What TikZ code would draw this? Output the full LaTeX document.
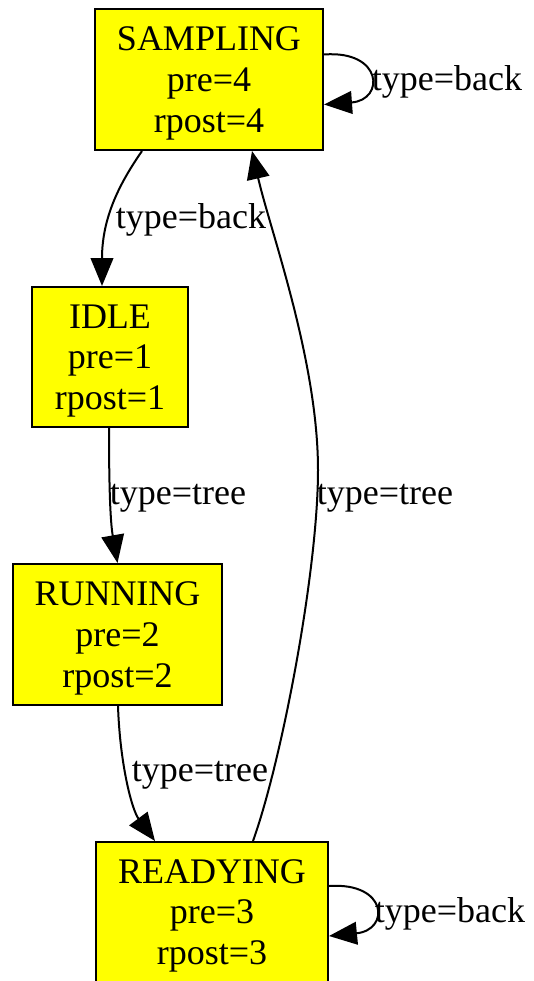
\documentclass[tikz,border=0pt]{standalone}
\usepackage{fontspec}
\setmainfont{Liberation Serif}
\usetikzlibrary{arrows.meta}
\definecolor{gvyellow}{RGB}{255,255,0}
\tikzset{
  state/.style={draw=black, line width=1.5pt, fill=gvyellow, rectangle, align=center, inner sep=0pt,
    text depth=0pt, font=\fontsize{27}{30.5}\selectfont},
  lbl/.style={font=\fontsize{27}{30}\selectfont, inner sep=0pt, text depth=0pt},
  edge/.style={draw=black, line width=1.5pt, -{Triangle[length=21pt,width=17pt]}},
}
\begin{document}
\begin{tikzpicture}[x=0.75pt,y=-0.75pt]
\useasboundingbox (0,0) rectangle (533,981);
\node[state, minimum width=228*0.75pt, minimum height=141*0.75pt] (s) at (209,79.5) {SAMPLING\\pre=4\\rpost=4};
\node[state, minimum width=156*0.75pt, minimum height=140*0.75pt] (i) at (110,357) {IDLE\\pre=1\\rpost=1};
\node[state, minimum width=209*0.75pt, minimum height=141*0.75pt] (r) at (117.5,634.5) {RUNNING\\pre=2\\rpost=2};
\node[state, minimum width=232*0.75pt, minimum height=140*0.75pt] (y) at (212,912) {READYING\\pre=3\\rpost=3};
% edges
\draw[edge] ([xshift=-67*0.75pt]s.south) .. controls (122,180) and (102,215) .. ([xshift=-8*0.75pt]i.north);
\node[lbl] (l1) at (191,216) {type=back};
\draw[edge] ([xshift=-1*0.75pt]i.south) .. controls (109,480) and (110,520) .. ([xshift=0pt]r.north);
\node[lbl] (l2) at (178,494) {type=tree};
\draw[edge] ([xshift=0.5*0.75pt]r.south) .. controls (120,765) and (132,810) .. ([xshift=-57*0.75pt]y.north);
\node[lbl] (l3) at (200,771) {type=tree};
\draw[edge] ([xshift=41*0.75pt]y.north) .. controls (282,760) and (318,570) .. (318,470)
  .. controls (318,360) and (270,230) .. ([xshift=43*0.75pt]s.south);
\node[lbl] (l4) at (385,494) {type=tree};
\draw[edge] ([yshift=25*0.75pt]s.east) .. controls (383,50) and (385,100) .. ([yshift=-25*0.75pt]s.east);
\node[lbl] (l5) at (447,78) {type=back};
\draw[edge] ([yshift=26*0.75pt]y.east) .. controls (388,882) and (390,930) .. ([yshift=-24*0.75pt]y.east);
\node[lbl] (l6) at (450,910) {type=back};
\end{tikzpicture}
\end{document}
